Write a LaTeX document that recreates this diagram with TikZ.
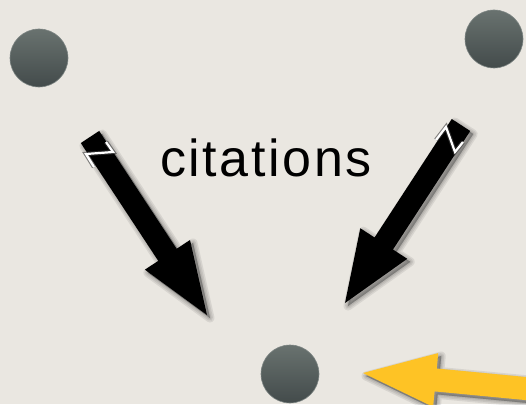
\documentclass[tikz,border=0pt]{standalone}
\usepackage{fontspec}
\setmainfont{Liberation Sans}
\usetikzlibrary{calc}
\definecolor{bgc}{HTML}{EAE7E1}
\definecolor{dottop}{HTML}{69726F}
\definecolor{dotbot}{HTML}{434B4B}
\definecolor{dotrim}{HTML}{7E8684}
\definecolor{yel}{HTML}{FEC325}
\tikzset{
  dot/.style={circle, minimum size=58pt, inner sep=0pt, top color=dottop, bottom color=dotbot, draw=dotrim, line width=0.6pt},
  softshade/.style={fill=black, draw=black, fill opacity=0.08, draw opacity=0.08, line join=round},
  zig/.style={draw=white, line width=2.2pt, line join=miter},
  zigshade/.style={draw=black!75, line width=4.4pt, line join=miter, opacity=0.6},
  citelabel/.style={font=\fontsize{52}{58}\selectfont\addfontfeature{LetterSpace=5}, text=black, inner sep=0pt}
}
\newcommand\arrowpoly[5]{%
  ($(#1)!#3!90:(#2)$) -- ($($(#2)!#5!(#1)$)!#3!90:(#2)$) -- ($($(#2)!#5!(#1)$)!#4!90:(#2)$) -- (#2) -- ($($(#2)!#5!(#1)$)!#4!-90:(#2)$) -- ($($(#2)!#5!(#1)$)!#3!-90:(#2)$) -- ($(#1)!#3!-90:(#2)$) -- cycle}
\newcommand\fatarrow[6]{%
  \path ($(#1)+(3,3)$) coordinate (sh-t) ($(#2)+(3,3)$) coordinate (sh-p);
  \path[softshade, line width=9pt] \arrowpoly{sh-t}{sh-p}{#3}{#4}{#5};
  \path[softshade, line width=6pt] \arrowpoly{sh-t}{sh-p}{#3}{#4}{#5};
  \path[softshade, line width=3pt] \arrowpoly{sh-t}{sh-p}{#3}{#4}{#5};
  \path[softshade, line width=0.5pt] \arrowpoly{sh-t}{sh-p}{#3}{#4}{#5};
  \fill[#6] \arrowpoly{#1}{#2}{#3}{#4}{#5};
}
\begin{document}
\begin{tikzpicture}[x=1pt,y=-1pt]
\useasboundingbox (0,0) rectangle (526,404);
\fill[bgc] (0,0) rectangle (526,404);
\clip (0,0) rectangle (526,404);
\node[dot] (s1) at (39,58) {};
\node[dot] (s2) at (494,39) {};
\node[dot] (hub) at (290,374) {};
\node[citelabel, anchor=base west] (lbl) at (160,176) {citations};
\coordinate (la-t) at (90,137);
\coordinate (la-p) at (207,315);
\coordinate (ra-t) at (461,125);
\coordinate (ra-p) at (345,303);
\coordinate (ya-t) at (562,392);
\coordinate (ya-p) at (363,373);
\fatarrow{la-t}{la-p}{11pt}{27pt}{72pt}{black}
\fatarrow{ra-t}{ra-p}{11pt}{28pt}{71pt}{black}
\fatarrow{ya-t}{ya-p}{11.5pt}{27pt}{73pt}{yel}
\draw[zigshade] (94,167) -- (86,154) -- (113,152) -- (106,142);
\draw[zig] (94,167) -- (86,154) -- (113,152) -- (106,142);
\draw[zigshade] (436,140) -- (446,127) -- (455,152) -- (463,142);
\draw[zig] (436,140) -- (446,127) -- (455,152) -- (463,142);
\end{tikzpicture}
\end{document}
